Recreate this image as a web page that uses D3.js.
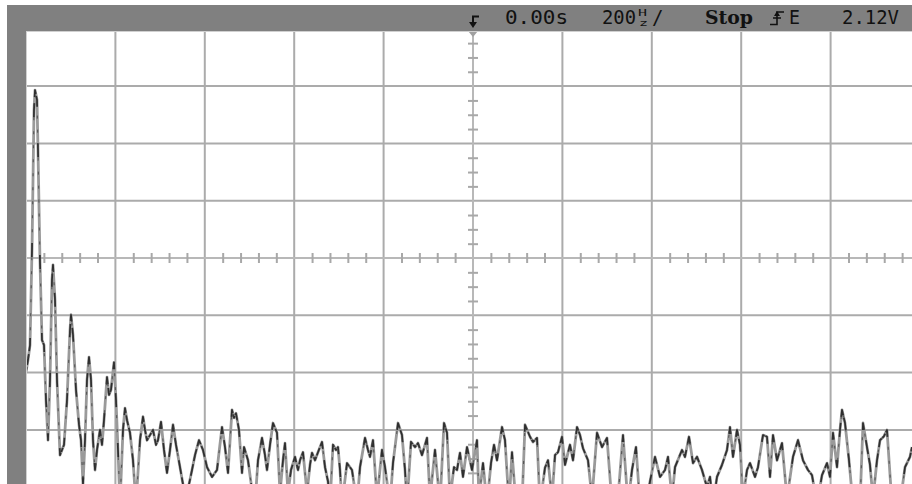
<!DOCTYPE html>
<html>
<head>
<meta charset="utf-8">
<script src="https://cdn.jsdelivr.net/npm/d3@7/dist/d3.min.js"></script>
<style>
  html, body { margin: 0; padding: 0; background: #ffffff; overflow: hidden; }
  svg { display: block; }
</style>
</head>
<body>
<svg id="scope" width="912" height="484"></svg>
<script>
// FFT display: 2000 Hz span (200 Hz/div), 10 dB/div, 894 bins across the screen
const spanHz = 2000;
const binCount = 894;
const freqDivs = d3.range(0, spanHz + 1, 200);
const levelDivs = d3.range(-40, 41, 10);

// spectrum trace: bin index and level (dB)
const bins = [
  0, 2, 4, 6, 8, 9, 11, 12, 14, 16, 18, 20, 22, 24, 26, 27, 29, 31, 34, 36,
  38, 41, 44, 45, 47, 50, 53, 55, 57, 59, 61, 63, 65, 67, 69, 71, 74, 76, 78, 81,
  83, 85, 88, 90, 92, 94, 97, 99, 101, 104, 107, 110, 114, 117, 119, 121, 124, 127, 130, 132,
  135, 138, 141, 144, 147, 150, 154, 157, 160, 163, 166, 169, 173, 177, 181, 186, 191, 196, 199, 202,
  206, 208, 210, 213, 216, 218, 222, 226, 229, 232, 236, 239, 241, 244, 247, 251, 254, 257, 259, 262,
  265, 269, 272, 274, 277, 281, 284, 286, 289, 292, 296, 299, 302, 304, 307, 310, 312, 314, 316, 321,
  326, 331, 334, 339, 342, 344, 347, 351, 356, 359, 364, 367, 372, 376, 379, 381, 385, 389, 392, 396,
  401, 404, 409, 414, 418, 421, 424, 428, 431, 434, 437, 441, 446, 451, 453, 457, 461, 465, 468, 471,
  476, 479, 483, 486, 490, 493, 496, 499, 504, 507, 511, 514, 519, 522, 526, 529, 532, 536, 539, 544,
  547, 551, 554, 557, 562, 566, 571, 576, 581, 586, 591, 597, 602, 606, 610, 614, 619, 624, 629, 634,
  639, 642, 646, 649, 656, 659, 663, 667, 671, 676, 681, 684, 687, 691, 696, 701, 704, 707, 711, 714,
  717, 721, 724, 729, 732, 737, 741, 744, 747, 751, 756, 761, 767, 772, 777, 782, 786, 791, 796, 801,
  804, 807, 811, 814, 816, 819, 823, 827, 831, 834, 837, 841, 844, 847, 851, 854, 858, 861, 866, 870,
  874, 879, 884, 886
];
const levelDb = [
  -19.9, -17.8, -15.2, 1.4, 25.8, 29.3, 27.6, 18.8, -0.7, -14.3, -15.2, -24.8, -31.8, -21.3, -3.8, -1.2, -7.3, -21.3, -34.4, -33.5,
  -32.6, -24.8, -12.6, -9.9, -13.4, -23.0, -29.1, -31.8, -39.5, -31.8, -21.3, -17.3, -21.3, -31.8, -37.0, -33.5, -30.0, -32.6, -28.3, -20.8,
  -23.9, -23.0, -18.2, -24.8, -33.5, -43.0, -30.0, -26.2, -28.3, -30.5, -35.3, -43.0, -31.8, -27.7, -30.0, -31.8, -30.9, -30.0, -32.6, -31.8,
  -28.6, -33.5, -37.5, -33.5, -29.1, -32.6, -36.5, -39.5, -43.0, -39.5, -37.0, -34.4, -31.8, -33.5, -36.5, -38.2, -37.0, -29.5, -33.0, -37.5,
  -26.5, -27.9, -27.1, -30.0, -37.5, -33.0, -35.3, -40.5, -43.0, -35.3, -31.4, -34.4, -37.0, -32.6, -28.8, -30.5, -41.0, -35.3, -32.3, -41.0,
  -37.0, -34.7, -37.0, -35.3, -33.9, -41.0, -36.1, -34.0, -35.3, -33.9, -32.1, -36.5, -39.0, -43.0, -32.6, -33.5, -33.0, -37.0, -43.0, -35.8,
  -37.0, -43.0, -36.5, -31.4, -33.5, -34.7, -31.8, -42.0, -33.5, -36.5, -43.0, -35.8, -28.8, -30.9, -37.0, -43.0, -32.1, -33.0, -32.3, -34.4,
  -31.4, -42.0, -33.5, -43.0, -28.8, -30.5, -42.0, -36.5, -37.0, -34.0, -38.2, -33.0, -37.0, -31.8, -42.0, -35.8, -43.0, -35.8, -32.6, -35.3,
  -29.5, -31.8, -43.0, -33.9, -43.0, -44.0, -43.0, -29.1, -31.2, -32.1, -31.4, -43.0, -36.6, -35.3, -42.0, -34.4, -33.9, -31.2, -36.1, -32.6,
  -35.3, -29.5, -30.9, -33.2, -35.3, -42.0, -30.5, -33.0, -31.4, -43.0, -44.0, -30.9, -43.0, -37.0, -33.0, -43.0, -44.0, -39.0, -34.7, -38.2,
  -37.0, -34.7, -42.0, -36.5, -33.5, -34.7, -31.2, -35.8, -34.7, -37.0, -40.0, -38.2, -43.0, -38.2, -36.1, -33.5, -29.5, -34.7, -30.0, -32.6,
  -42.0, -37.0, -35.8, -38.2, -36.5, -30.9, -31.2, -38.2, -30.9, -35.3, -32.3, -42.0, -34.7, -31.8, -35.3, -37.0, -37.9, -43.0, -37.9, -35.8,
  -38.2, -30.5, -36.5, -30.0, -26.5, -28.8, -35.3, -43.0, -44.0, -43.0, -28.8, -33.0, -36.1, -42.0, -35.3, -31.8, -31.1, -30.0, -43.0, -44.0,
  -43.0, -36.5, -34.7, -33.0
];

// status line
const statusTime = "0.00s";
const statusSpan = "200";
const statusRun = "Stop";
const statusSource = "E";
const statusLevel = "2.12V";

const svg = d3.select("#scope");
const W = 912, H = 484;
const plot = { left: 26, top: 28.8, right: 920, bottom: 487.2 };

const x = d3.scaleLinear().domain([0, spanHz]).range([plot.left, plot.right]);
const y = d3.scaleLinear().domain([-40, 40]).range([plot.bottom, plot.top]);
const binHz = spanHz / binCount;

svg.append("rect").attr("width", W).attr("height", H).attr("fill", "#ffffff");

svg.append("clipPath").attr("id", "screen")
  .append("rect")
  .attr("x", plot.left).attr("y", 31)
  .attr("width", W - plot.left).attr("height", H - 31);

const screen = svg.append("g").attr("clip-path", "url(#screen)");

// graticule
const gridColor = "#ababab";
screen.append("g").selectAll("line").data(freqDivs.filter(d => d > 0 && d !== 1000)).join("line")
  .attr("x1", d => x(d)).attr("x2", d => x(d))
  .attr("y1", plot.top).attr("y2", plot.bottom)
  .attr("stroke", gridColor).attr("stroke-width", 2);
screen.append("g").selectAll("line").data(levelDivs.filter(d => d !== 0)).join("line")
  .attr("y1", d => y(d)).attr("y2", d => y(d))
  .attr("x1", plot.left).attr("x2", W)
  .attr("stroke", gridColor).attr("stroke-width", 2);

// centre axes with minor ticks
const centre = screen.append("g").attr("class", "centre");
centre.append("line")
  .attr("x1", x(1000)).attr("x2", x(1000)).attr("y1", plot.top).attr("y2", plot.bottom)
  .attr("stroke", "#b8b8b8").attr("stroke-width", 2);
centre.append("line")
  .attr("y1", y(0)).attr("y2", y(0)).attr("x1", plot.left).attr("x2", W)
  .attr("stroke", "#b8b8b8").attr("stroke-width", 2);

const hMinor = d3.range(0, spanHz + 1, 40).filter(d => d % 200 !== 0);
const vMinor = d3.range(-40, 40.1, 2.5).filter(d => d % 10 !== 0);
const hAxis = d3.axisBottom(x).tickValues(hMinor).tickSize(10).tickFormat("");
const vAxis = d3.axisRight(y).tickValues(vMinor).tickSize(10).tickFormat("");
const hg = centre.append("g").attr("transform", `translate(0,${y(0) - 5})`).call(hAxis);
const vg = centre.append("g").attr("transform", `translate(${x(1000) - 5},0)`).call(vAxis);
[hg, vg].forEach(g => {
  g.select(".domain").remove();
  g.selectAll(".tick line").attr("stroke", "#a8a8a8").attr("stroke-width", 2);
});

// spectrum trace: light body, darker pixels around each turning point
const pts = bins.map((b, i) => [b * binHz, levelDb[i]]);
const line = d3.line().x(d => x(d[0])).y(d => y(d[1]));
screen.append("path").datum(pts)
  .attr("d", line).attr("fill", "none")
  .attr("stroke", "#9a9a9a").attr("stroke-width", 2.8)
  .attr("stroke-linejoin", "round");

const px = pts.map(d => [x(d[0]), y(d[1])]);
const toward = (a, b, len) => {
  const dx = b[0] - a[0], dy = b[1] - a[1];
  const d = Math.hypot(dx, dy) || 1;
  const t = Math.min(len, d * 0.4) / d;
  return [a[0] + dx * t, a[1] + dy * t];
};
const knots = px.map((p, i) => {
  const parts = [];
  if (i > 0) parts.push(toward(p, px[i - 1], 7));
  parts.push(p);
  if (i < px.length - 1) parts.push(toward(p, px[i + 1], 7));
  return parts;
});
screen.append("g").selectAll("path").data(knots).join("path")
  .attr("d", d => d3.line()(d)).attr("fill", "none")
  .attr("stroke", "#2e2e2e").attr("stroke-width", 1.7)
  .attr("stroke-linejoin", "round").attr("stroke-linecap", "butt");
// faint dashed core so long edges keep some dark pixels
screen.append("path").datum(pts)
  .attr("d", line).attr("fill", "none")
  .attr("stroke", "#3a3a3a").attr("stroke-width", 1.1)
  .attr("stroke-opacity", 0.7)
  .attr("stroke-dasharray", "3 11");

// trigger position marker
screen.append("path")
  .attr("d", `M${x(1000) - 5},31 L${x(1000) + 5},31 L${x(1000)},37 Z`)
  .attr("fill", "#a0a0a0");

// bezel
const bezel = "#808080";
svg.append("rect").attr("x", 7).attr("y", 5).attr("width", W - 7).attr("height", 26).attr("fill", bezel);
svg.append("rect").attr("x", 7).attr("y", 5).attr("width", 19).attr("height", H - 5).attr("fill", bezel);
svg.append("line").attr("x1", 26).attr("x2", W).attr("y1", 31.5).attr("y2", 31.5)
  .attr("stroke", "#d0d0d0").attr("stroke-width", 1);
svg.append("line").attr("x1", 26.5).attr("x2", 26.5).attr("y1", 31).attr("y2", H)
  .attr("stroke", "#d0d0d0").attr("stroke-width", 1);

// status line
const status = svg.append("g").attr("fill", "#111111")
  .style("font-family", "'DejaVu Sans Mono', monospace").style("font-size", "19px");

// delay reference arrow
const ax = x(1000);
status.append("path")
  .attr("d", `M${ax + 6},16.5 H${ax} V24`)
  .attr("fill", "none").attr("stroke", "#111").attr("stroke-width", 2);
status.append("path")
  .attr("d", `M${ax - 4},22 H${ax + 4} L${ax},28 Z`).attr("fill", "#111");

status.append("text").attr("x", 505).attr("y", 24)
  .attr("textLength", 63).attr("lengthAdjust", "spacingAndGlyphs").text(statusTime);
status.append("text").attr("x", 602).attr("y", 24)
  .attr("textLength", 34).attr("lengthAdjust", "spacingAndGlyphs").text(statusSpan);
status.append("text").attr("x", 638).attr("y", 16).style("font-size", "9px")
  .attr("textLength", 9).attr("lengthAdjust", "spacingAndGlyphs").text("H");
status.append("text").attr("x", 639).attr("y", 26).style("font-size", "9px")
  .attr("textLength", 9).attr("lengthAdjust", "spacingAndGlyphs").text("z");
status.append("text").attr("x", 652).attr("y", 24).text("/");
status.append("text").attr("x", 705).attr("y", 24).style("font-weight", "bold")
  .style("font-family", "'DejaVu Serif', serif")
  .attr("textLength", 48).attr("lengthAdjust", "spacingAndGlyphs").text(statusRun);

// rising-edge trigger icon
status.append("path")
  .attr("d", "M770,24.5 H777 V12 H784 M773,18 H781")
  .attr("fill", "none").attr("stroke", "#111").attr("stroke-width", 1.6);
status.append("path").attr("d", "M777,11 L774,16 H780 Z").attr("fill", "#111");

status.append("text").attr("x", 789).attr("y", 24)
  .attr("textLength", 11).attr("lengthAdjust", "spacingAndGlyphs").text(statusSource);
status.append("text").attr("x", 842).attr("y", 24)
  .attr("textLength", 57).attr("lengthAdjust", "spacingAndGlyphs").text(statusLevel);
</script>
</body>
</html>
